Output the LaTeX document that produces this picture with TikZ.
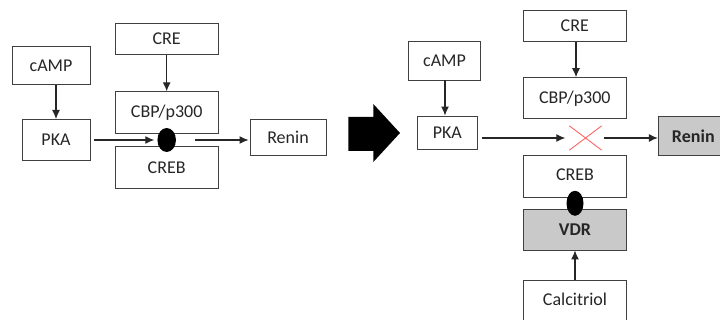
\documentclass[tikz,border=0pt]{standalone}
\usepackage{fontspec}
\setmainfont{Carlito}
\usetikzlibrary{arrows.meta,shapes.geometric}
\begin{document}
\begin{tikzpicture}[x=1pt,y=-1pt,
  box/.style={draw=black!75,line width=0.9pt,inner sep=0pt,font=\fontsize{18}{21}\selectfont,text=black!85},
  gbox/.style={box,fill=black!21,font=\fontsize{18}{21}\selectfont\bfseries},
  arr/.style={-{Latex[length=9pt,width=8pt]},line width=1.1pt,black!85},
  dot/.style={ellipse,fill=black,inner sep=0pt}]
\useasboundingbox (0,0) rectangle (720,320);
\clip (0,0) rectangle (720,320);
% left diagram
\node[box,minimum width=78pt,minimum height=37.5pt] (camp1) at (51,65.5) {cAMP};
\node[box,minimum width=68pt,minimum height=41.5pt] (pka1) at (56,140.2) {PKA};
\node[box,minimum width=103pt,minimum height=30.5pt] (cre1) at (166.7,39.2) {CRE};
\node[box,minimum width=103pt,minimum height=41.5pt] (cbp1) at (166.7,112.5) {CBP/p300};
\node[box,minimum width=103pt,minimum height=42pt] (creb1) at (166.7,167.8) {\raisebox{-5pt}{CREB}};
\node[box,minimum width=76pt,minimum height=36.5pt] (ren1) at (288,137.7) {Renin};
\node[dot,minimum width=18.5pt,minimum height=24pt] (e1) at (166.7,140) {};
\draw[arr] (camp1.south -| pka1) -- (pka1.north);
\draw[arr] (cre1) -- (cbp1);
\draw[arr] ([xshift=4pt]pka1.east |- e1) -- ([xshift=-3pt]e1.west);
\draw[arr] ([xshift=19pt]e1.east) -- ([xshift=-1pt]ren1.west |- e1);
% big arrow
\fill[black] (348.3,117) -- (373.3,117) -- (373.3,104) -- (400,133) -- (373.3,162) -- (373.3,151) -- (348.3,151) -- cycle;
% right diagram
\node[box,minimum width=72.5pt,minimum height=39pt] (camp2) at (444.5,60.5) {cAMP};
\node[box,minimum width=60pt,minimum height=33pt] (pka2) at (447.3,132.5) {PKA};
\node[box,minimum width=102.7pt,minimum height=31pt] (cre2) at (574.8,26.2) {CRE};
\node[box,minimum width=102.7pt,minimum height=41.3pt] (cbp2) at (574.8,98.3) {CBP/p300};
\node[box,minimum width=103.3pt,minimum height=41.7pt] (creb2) at (575,176.8) {\raisebox{5pt}{CREB}};
\node[gbox,minimum width=103.3pt,minimum height=41pt] (vdr) at (575,229.5) {VDR};
\node[box,minimum width=103.3pt,minimum height=41pt] (calc) at (575,300.5) {\raisebox{3pt}{Calcitriol}};
\node[gbox,minimum width=70pt,minimum height=39pt] (ren2) at (693.3,136.2) {Renin};
\node[dot,minimum width=17pt,minimum height=25pt] (e2) at (575,203.3) {};
\node[inner sep=0pt,minimum width=32pt,minimum height=24pt] (x) at (585.5,138) {};
\draw[red!60,line width=0.9pt] (x.north west) -- (x.south east) (x.south west) -- (x.north east);
\draw[arr] (camp2.south -| 445,0) -- (pka2.north -| 445,0);
\draw[arr] (cre2.south -| 576,0) -- (cbp2.north -| 576,0);
\draw[arr] ([xshift=4pt]pka2.east |- x) -- ([xshift=-4pt]x.west);
\draw[arr] ([xshift=2pt]x.east) -- (ren2.west |- x);
\draw[arr] (calc) -- (vdr);
\end{tikzpicture}
\end{document}
